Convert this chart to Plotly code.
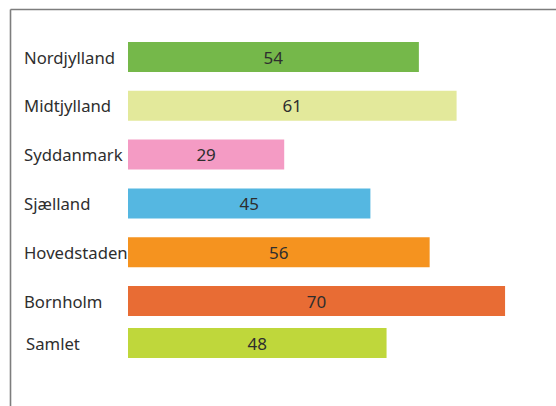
import plotly.graph_objects as go

regions = ["Nordjylland", "Midtjylland", "Syddanmark", "Sjælland", "Hovedstaden", "Bornholm"]
region_values = [54, 61, 29, 45, 56, 70]
total_label = ["Samlet"]
total_values = [48]

region_colors = ["#75b84a", "#e3e99b", "#f49bc4", "#55b7e1", "#f5931f", "#e86c34"]
total_colors = ["#bfd73b"]

W, H = 556, 406
ML, MR = 128, 24
PW = W - ML - MR

def px_x(px):
    return (px - ML) / PW

def px_y(py):
    return 1 - py / H

FONT = "Noto Sans"
TXT = "#2e2e2e"
FS = 17

fig = go.Figure()
fig.add_trace(go.Bar(
    y=regions, x=region_values, orientation="h",
    marker=dict(color=region_colors, line=dict(width=0)),
    text=[str(v) for v in region_values], textposition="inside",
    insidetextanchor="middle",
    textfont=dict(family=FONT, size=FS, color=TXT),
    yaxis="y", xaxis="x", hoverinfo="skip",
))
fig.add_trace(go.Bar(
    y=total_label, x=total_values, orientation="h",
    marker=dict(color=total_colors, line=dict(width=0)),
    text=[str(v) for v in total_values], textposition="inside",
    insidetextanchor="middle",
    textfont=dict(family=FONT, size=FS, color=TXT),
    yaxis="y2", xaxis="x", hoverinfo="skip",
))

step = 48.8
top_c, bot_c = 57, 301
samlet_c = 343

annotations = []
for r in regions:
    annotations.append(dict(x=px_x(22), xref="paper", xanchor="left",
                            y=r, yref="y", yanchor="middle", text=r,
                            showarrow=False,
                            font=dict(family=FONT, size=FS - 0.3, color=TXT)))
for r in total_label:
    annotations.append(dict(x=px_x(24), xref="paper", xanchor="left",
                            y=r, yref="y2", yanchor="middle", text=r,
                            showarrow=False,
                            font=dict(family=FONT, size=FS - 0.3, color=TXT)))

line_col = "#7d7d7d"
shapes = [
    dict(type="line", xref="paper", yref="paper",
         x0=px_x(10.5), x1=px_x(560), y0=px_y(9.5), y1=px_y(9.5),
         line=dict(color=line_col, width=1.6)),
    dict(type="line", xref="paper", yref="paper",
         x0=px_x(10.5), x1=px_x(10.5), y0=px_y(9.5), y1=px_y(410),
         line=dict(color=line_col, width=1.6)),
]

fig.update_layout(
    width=W, height=H,
    margin=dict(l=ML, r=MR, t=0, b=0, pad=0),
    paper_bgcolor="white", plot_bgcolor="rgba(0,0,0,0)",
    showlegend=False,
    bargap=1 - 30 / step,
    xaxis=dict(range=[0, 75], visible=False, fixedrange=True),
    yaxis=dict(type="category", range=[len(regions) - 0.5, -0.5],
               domain=[px_y(bot_c + step / 2), px_y(top_c - step / 2)],
               showticklabels=False, showgrid=False, zeroline=False,
               showline=False, ticks="", anchor="x", fixedrange=True),
    yaxis2=dict(type="category", range=[0.5, -0.5],
                domain=[px_y(samlet_c + step / 2), px_y(samlet_c - step / 2)],
                showticklabels=False, showgrid=False, zeroline=False,
                showline=False, ticks="", anchor="x", fixedrange=True),
    annotations=annotations,
    shapes=shapes,
)

fig.write_html(
    "out.html",
    config={"displayModeBar": False, "staticPlot": True},
    post_script="document.body.style.margin='0';document.body.style.overflow='hidden';",
)
